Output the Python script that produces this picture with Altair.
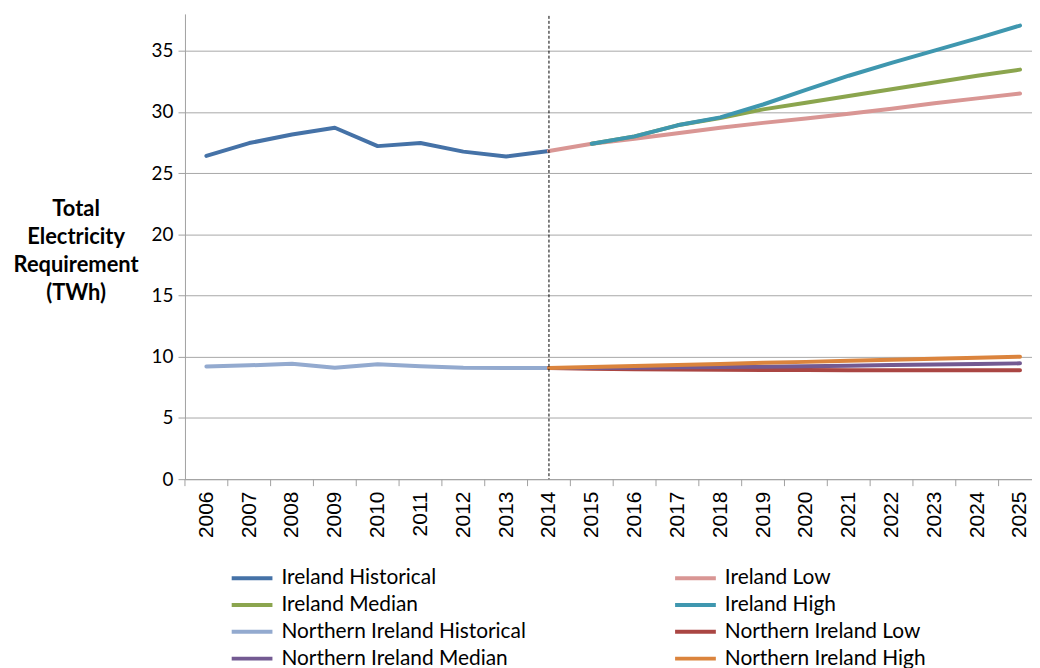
import altair as alt
import pandas as pd

years = list(range(2006, 2026))

ireland_hist_years = list(range(2006, 2015))
ireland_hist = [26.4, 27.45, 28.15, 28.7, 27.2, 27.45, 26.75, 26.35, 26.8]

ireland_low_years = list(range(2014, 2026))
ireland_low = [26.8, 27.4, 27.8, 28.25, 28.7, 29.1, 29.45, 29.85, 30.25, 30.7, 31.1, 31.5]

ireland_med_years = list(range(2015, 2026))
ireland_median = [27.4, 28.0, 28.9, 29.5, 30.2, 30.75, 31.3, 31.85, 32.4, 32.95, 33.45]

ireland_high_years = list(range(2015, 2026))
ireland_high = [27.4, 28.0, 28.9, 29.55, 30.6, 31.8, 32.95, 34.0, 35.0, 36.0, 37.05]

ni_hist_years = list(range(2006, 2015))
ni_hist = [9.2, 9.3, 9.42, 9.1, 9.38, 9.23, 9.1, 9.08, 9.08]

ni_fc_years = list(range(2014, 2026))
ni_low = [9.08, 9.02, 8.98, 8.95, 8.93, 8.92, 8.91, 8.9, 8.9, 8.9, 8.9, 8.9]
ni_median = [9.08, 9.08, 9.1, 9.13, 9.16, 9.19, 9.23, 9.27, 9.32, 9.36, 9.41, 9.46]
ni_high = [9.08, 9.17, 9.25, 9.33, 9.41, 9.5, 9.58, 9.67, 9.75, 9.83, 9.92, 10.0]

# legend entries, filled column by column (left column first)
legend_order = [
    "Ireland Historical", "Ireland Median",
    "Northern Ireland Historical", "Northern Ireland Median",
    "Ireland Low", "Ireland High",
    "Northern Ireland Low", "Northern Ireland High",
]
legend_colors = [
    "#4572A7", "#8BA54E",
    "#93AACF", "#735A92",
    "#D99694", "#3F97AF",
    "#AA4643", "#DB843D",
]

series = {
    "Northern Ireland Historical": (ni_hist_years, ni_hist),
    "Ireland Historical": (ireland_hist_years, ireland_hist),
    "Ireland Low": (ireland_low_years, ireland_low),
    "Ireland Median": (ireland_med_years, ireland_median),
    "Ireland High": (ireland_high_years, ireland_high),
    "Northern Ireland Low": (ni_fc_years, ni_low),
    "Northern Ireland Median": (ni_fc_years, ni_median),
    "Northern Ireland High": (ni_fc_years, ni_high),
}

rows = []
for name, (ys, vs) in series.items():
    for y, v in zip(ys, vs):
        rows.append({"year": y, "value": v, "series": name})
df = pd.DataFrame(rows)

xscale = alt.Scale(domain=[2005.5, 2025.28], nice=False, zero=False)
yscale = alt.Scale(domain=[0, 38], nice=False)

FONT = "Lato"

x_axis = alt.Axis(
    values=years, format="d", title=None, labelAngle=270, labelAlign="right",
    labelBaseline="middle", labelFont="Liberation Sans", labelFontSize=21,
    labelColor="#000000", ticks=False, labelPadding=12, grid=False,
    domainColor="#A0A0A0", domainWidth=1, labelFlush=False, labelOverlap=False,
)
y_axis = alt.Axis(
    values=[0, 5, 10, 15, 20, 25, 30, 35],
    title=["Total", "Electricity", "Requirement", "(TWh)"],
    titleAngle=0, titleAlign="center", titleBaseline="alphabetic",
    titleX=-110, titleY=203, titleFont=FONT, titleFontSize=22,
    titleFontWeight="bold", titleLineHeight=28, titleColor="#000000",
    labelFont=FONT, labelFontSize=19, labelColor="#000000",
    tickSize=7, tickColor="#A0A0A0", labelPadding=5,
    gridColor="#A8A8A8", gridWidth=1, domainColor="#A0A0A0",
    labelFlush=False, labelOverlap=False,
)

base = alt.Chart(df)

layers = []
for name in series.keys():
    layer = base.transform_filter(alt.datum.series == name).mark_line(
        strokeWidth=4, strokeCap="round", strokeJoin="round"
    ).encode(
        x=alt.X("year:Q", scale=xscale, axis=x_axis),
        y=alt.Y("value:Q", scale=yscale, axis=y_axis),
        color=alt.Color(
            "series:N",
            scale=alt.Scale(domain=legend_order, range=legend_colors),
            legend=alt.Legend(
                title=None, orient="none", legendX=57, legendY=557,
                columns=2, columnPadding=141, rowPadding=5,
                symbolType="M-4,0H4", symbolSize=105, symbolStrokeWidth=4,
                labelFont=FONT, labelFontSize=21, labelColor="#000000",
                labelOffset=19, labelLimit=400,
            ),
        ),
    )
    layers.append(layer)

tick_df = pd.DataFrame({"year": years})
ticks = alt.Chart(tick_df).transform_calculate(
    edge="datum.year - 0.5"
).mark_rule(color="#A0A0A0", strokeWidth=1).encode(
    x=alt.X("edge:Q", scale=xscale, axis=x_axis),
    y=alt.value(468), y2=alt.value(475),
)

divider_df = pd.DataFrame({"year": [2014]})
divider = alt.Chart(divider_df).mark_rule(
    color="#000000", strokeWidth=1, strokeDash=[3, 2]
).encode(
    x=alt.X("year:Q", scale=xscale, axis=x_axis),
    y=alt.value(2), y2=alt.value(468),
)

chart = alt.layer(*layers, ticks, divider).properties(
    width=852, height=468,
    autosize=alt.AutoSizeParams(type="none"),
    padding={"left": 178, "top": 4, "right": 0, "bottom": 188},
    background="white",
).configure_view(stroke=None)

chart.save("out.html", embed_options={"renderer": "svg", "actions": False})
